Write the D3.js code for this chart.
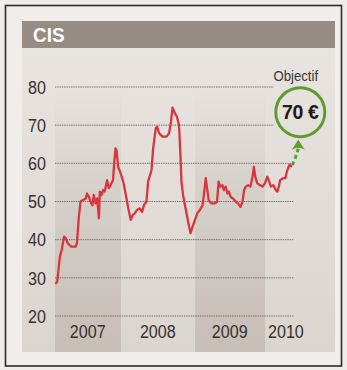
<!DOCTYPE html>
<html>
<head>
<meta charset="utf-8">
<script src="https://cdn.jsdelivr.net/npm/d3@7"></script>
<style>
  html, body { margin: 0; padding: 0; background: #efece9; }
  svg { display: block; }
  text { font-family: "Liberation Sans", Arial, sans-serif; }
</style>
</head>
<body>
<svg id="chart" width="347" height="370"></svg>
<script>
const title = 'CIS'
const yTicks = [20, 30, 40, 50, 60, 70, 80]
const years = [2007, 2008, 2009, 2010]
const yearLabelDates = ['2007-07-01', '2008-07-01', '2009-07-01', '2010-04-20']
const objective = 70
const objectiveLabel = 'Objectif'
const objectiveText = '70 €'

const dates = [
  '2007-01-06', '2007-01-13', '2007-01-28', '2007-02-07', '2007-02-20', '2007-03-01', '2007-03-13', '2007-04-01',
  '2007-04-25', '2007-05-02', '2007-05-13', '2007-05-22', '2007-06-05', '2007-06-20', '2007-06-27', '2007-07-08',
  '2007-07-16', '2007-07-27', '2007-08-03', '2007-08-14', '2007-08-22', '2007-09-01', '2007-09-06', '2007-09-15',
  '2007-09-24', '2007-10-03', '2007-10-16', '2007-10-25', '2007-11-04', '2007-11-18', '2007-11-24', '2007-12-02',
  '2007-12-07', '2007-12-16', '2007-12-30',
  '2008-01-12', '2008-01-25', '2008-02-06', '2008-02-18', '2008-02-28', '2008-03-09', '2008-03-20', '2008-04-03',
  '2008-04-14', '2008-04-24', '2008-05-06', '2008-05-14', '2008-05-31', '2008-06-08', '2008-06-21', '2008-06-28',
  '2008-07-07', '2008-07-24', '2008-08-13', '2008-08-26', '2008-09-04', '2008-09-12', '2008-09-24', '2008-10-04',
  '2008-10-14', '2008-10-21', '2008-10-26', '2008-11-03', '2008-11-12', '2008-11-25', '2008-12-03', '2008-12-10',
  '2008-12-20',
  '2009-01-01', '2009-01-13', '2009-01-27', '2009-02-10', '2009-02-17', '2009-02-26', '2009-03-04', '2009-03-13',
  '2009-03-27', '2009-04-14', '2009-04-26', '2009-05-04', '2009-05-13', '2009-05-24', '2009-06-01', '2009-06-10',
  '2009-06-19', '2009-06-27', '2009-07-06', '2009-07-18', '2009-08-01', '2009-08-13', '2009-08-26', '2009-09-06',
  '2009-09-14', '2009-09-23', '2009-10-05', '2009-10-17', '2009-10-28', '2009-11-04', '2009-11-11', '2009-11-21',
  '2009-12-05', '2009-12-19',
  '2010-01-01', '2010-01-13', '2010-01-23', '2010-02-01', '2010-02-13', '2010-02-26', '2010-03-06', '2010-03-14',
  '2010-03-21', '2010-04-05', '2010-04-17', '2010-04-25', '2010-05-04', '2010-05-09', '2010-05-18'
]
const prices = [
  28.6, 29, 35.5, 37.3, 40.8, 40.4, 39, 38.2,
  38.2, 39, 46, 50, 50.4, 50.8, 52.1, 51.2,
  50, 49, 51.7, 49.5, 50.8, 45.6, 52.6, 51.7,
  53, 52.6, 55.6, 53.5, 54.3, 55.6, 60, 63.9,
  63.5, 59.1, 57.4,
  55.2, 51.7, 48.2, 45.2, 46.5, 46.9, 47.8, 48.2,
  47.3, 49.1, 50, 55.2, 58.2, 63.9, 69.2, 69.6,
  67.9, 67, 67, 67.9, 70.9, 74.6, 73.1, 72.2,
  70, 62.2, 55.2, 51.7, 49.1, 45.6, 43.4, 41.7,
  43.4,
  45.2, 46.9, 47.8, 49.1, 52.1, 56.1, 53.9, 50.4,
  49.5, 49.5, 50, 55.2, 53.9, 54.3, 53, 53.9,
  52.1, 52.6, 51.2, 50.8, 50, 49.5, 48.6, 50,
  53, 53.9, 54.3, 53.9, 56.5, 59.1, 56.5, 54.8,
  54.3, 53.9,
  54.8, 56.5, 55.2, 53.9, 54.3, 53, 52.6, 53.9,
  55.6, 56.1, 56.1, 57.8, 59.1, 59.6, 59.3
]

const parse = d3.utcParse('%Y-%m-%d')
const series = dates.map((d, i) => ({ date: parse(d), value: prices[i] }))
const yearStarts = years.concat(years[years.length - 1] + 1).map((y) => new Date(Date.UTC(y, 0, 1)))

const svg = d3.select('#chart')
const panel = { left: 22, right: 335, top: 21, bottom: 352 }
const plotTop = 87
const plotBottom = 316

const x = d3.scaleUtc().domain(yearStarts).range([55, 121, 195, 265, 335])
const y = d3.scaleLinear().domain([20, 80]).range([plotBottom, plotTop])

// condensed look: squeeze text horizontally around its anchor point
function squeezed(parent, px, py, sx) {
  return parent.append('text').attr('transform', `translate(${px},${py}) scale(${sx},1)`)
}

const defs = svg.append('defs')
const panelGrad = defs.append('linearGradient').attr('id', 'panelGrad').attr('x1', 0).attr('y1', 0).attr('x2', 0).attr('y2', 1)
panelGrad.append('stop').attr('offset', '0%').attr('stop-color', '#e9e5e1')
panelGrad.append('stop').attr('offset', '100%').attr('stop-color', '#dbd5cf')
const bandGrad = defs.append('linearGradient').attr('id', 'bandGrad').attr('x1', 0).attr('y1', 0).attr('x2', 0).attr('y2', 1)
bandGrad.append('stop').attr('offset', '0%').attr('stop-color', '#a89c92').attr('stop-opacity', 0)
bandGrad.append('stop').attr('offset', '35%').attr('stop-color', '#a89c92').attr('stop-opacity', 0.18)
bandGrad.append('stop').attr('offset', '100%').attr('stop-color', '#a89c92').attr('stop-opacity', 0.4)

// frame
svg.append('rect').attr('x', 5.5).attr('y', 5.5).attr('width', 336).attr('height', 360.5)
  .attr('fill', '#f0edea').attr('stroke', '#2e2b29').attr('stroke-width', 1.6)

// panel
svg.append('rect').attr('x', panel.left).attr('y', panel.top)
  .attr('width', panel.right - panel.left).attr('height', panel.bottom - panel.top)
  .attr('fill', 'url(#panelGrad)')

// alternating year bands
svg.append('g').selectAll('rect').data(years.filter((_, i) => i % 2 === 0)).join('rect')
  .attr('x', (yr) => x(yearStarts[years.indexOf(yr)]))
  .attr('width', (yr) => x(yearStarts[years.indexOf(yr) + 1]) - x(yearStarts[years.indexOf(yr)]))
  .attr('y', plotTop).attr('height', panel.bottom - plotTop)
  .attr('fill', 'url(#bandGrad)')

// title bar
svg.append('rect').attr('x', panel.left).attr('y', panel.top).attr('width', panel.right - panel.left).attr('height', 27).attr('fill', '#978c84')
squeezed(svg, 33, 42, 0.9).attr('fill', '#ffffff').attr('font-size', 21).attr('font-weight', 700).text(title)

// objective marker layout
const last = series[series.length - 1]
const circle = { cx: x(last.date) + 9, cy: y(objective) - 13, r: 24.5 }

// gridlines (stop short of the objective circle)
const gridEnd = x(last.date) + 2
svg.append('g').selectAll('line').data(yTicks).join('line')
  .attr('x1', x(yearStarts[0]))
  .attr('x2', (t) => Math.abs(y(t) - circle.cy) < circle.r + 2 ? circle.cx - circle.r - 2 : gridEnd)
  .attr('y1', (t) => y(t)).attr('y2', (t) => y(t))
  .attr('stroke', '#77726d').attr('stroke-width', 1).attr('stroke-dasharray', '1.5,0.8')

// y tick labels
const tickG = svg.append('g')
yTicks.forEach((t) => {
  squeezed(tickG, 46, y(t), 0.87).attr('dy', '0.36em')
    .attr('text-anchor', 'end').attr('font-size', 18.5).attr('fill', '#35312e')
    .text(t)
})

// year labels
const yearG = svg.append('g')
years.forEach((yr, i) => {
  squeezed(yearG, x(parse(yearLabelDates[i])), 338, 0.87)
    .attr('text-anchor', 'middle').attr('font-size', 18.5).attr('fill', '#35312e')
    .text(yr)
})

// price line
const line = d3.line().x((d) => x(d.date)).y((d) => y(d.value))
svg.append('path').datum(series).attr('d', line)
  .attr('fill', 'none').attr('stroke', '#d9353d').attr('stroke-width', 2.3)
  .attr('stroke-linejoin', 'round').attr('stroke-linecap', 'round')

// green dashed arrow towards objective
const arrowTip = { x: circle.cx - 2, y: circle.cy + circle.r + 3 }
const arrowBase = arrowTip.y + 9
svg.append('path')
  .attr('d', `M${x(last.date) + 1},${y(last.value) - 1} Q${arrowTip.x - 3},${(y(last.value) + arrowBase) / 2 + 2} ${arrowTip.x},${arrowBase}`)
  .attr('fill', 'none').attr('stroke', '#5c9d2e').attr('stroke-width', 3).attr('stroke-dasharray', '4,3')
svg.append('path')
  .attr('d', `M${arrowTip.x},${arrowTip.y} L${arrowTip.x + 6.5},${arrowBase + 1} Q${arrowTip.x},${arrowBase - 3} ${arrowTip.x - 6.5},${arrowBase + 1} Z`)
  .attr('fill', '#5c9d2e')

svg.append('circle').attr('cx', circle.cx).attr('cy', circle.cy).attr('r', circle.r)
  .attr('fill', 'none').attr('stroke', '#5c9d2e').attr('stroke-width', 3)
squeezed(svg, circle.cx, circle.cy, 1).attr('dy', '0.36em')
  .attr('text-anchor', 'middle').attr('font-size', 19.5).attr('font-weight', 700).attr('fill', '#1e1b19')
  .attr('letter-spacing', -0.3)
  .text(objectiveText)
squeezed(svg, circle.cx - 4.5, circle.cy - circle.r - 6.5, 0.88)
  .attr('text-anchor', 'middle').attr('font-size', 15).attr('fill', '#3a3633')
  .text(objectiveLabel)
</script>
</body>
</html>
